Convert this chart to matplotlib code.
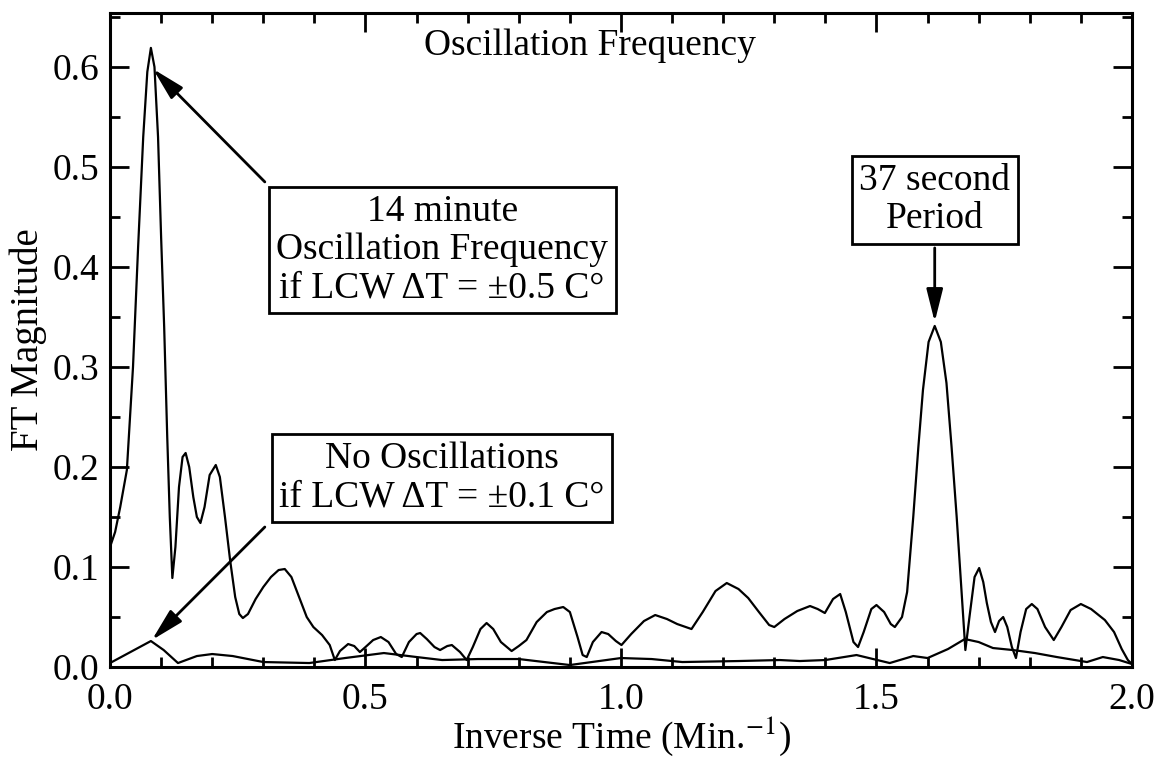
import matplotlib
matplotlib.use("Agg")
import matplotlib.pyplot as plt
from matplotlib.ticker import MultipleLocator

plt.rcParams['font.family'] = ['Liberation Serif', 'DejaVu Serif']
plt.rcParams['mathtext.fontset'] = 'stix'

# FT magnitude, LCW dT = +/-0.5 C
freq_a = [0.000, 0.010, 0.020, 0.033, 0.045, 0.055, 0.065, 0.073, 0.080, 0.087,
          0.094, 0.100, 0.106, 0.112, 0.117, 0.122, 0.128, 0.135, 0.142, 0.148,
          0.155, 0.163, 0.170, 0.177, 0.185, 0.195, 0.207, 0.215, 0.225, 0.235,
          0.245, 0.253, 0.260, 0.270, 0.285, 0.300, 0.315, 0.330, 0.342, 0.355,
          0.370, 0.385, 0.398, 0.415, 0.430, 0.440, 0.450, 0.466, 0.478, 0.489,
          0.500, 0.515, 0.530, 0.545, 0.560, 0.571, 0.585, 0.600, 0.607, 0.620,
          0.635, 0.646, 0.660, 0.669, 0.685, 0.698, 0.710, 0.725, 0.737, 0.750,
          0.765, 0.786, 0.800, 0.815, 0.835, 0.855, 0.870, 0.887, 0.900, 0.915,
          0.925, 0.933, 0.945, 0.962, 0.975, 0.990, 1.001, 1.020, 1.045, 1.067,
          1.090, 1.110, 1.138, 1.160, 1.185, 1.207, 1.230, 1.249, 1.270, 1.290,
          1.300, 1.320, 1.345, 1.370, 1.385, 1.399, 1.415, 1.429, 1.440, 1.455,
          1.464, 1.475, 1.490, 1.500, 1.515, 1.528, 1.536, 1.550, 1.560, 1.572,
          1.582, 1.591, 1.602, 1.614, 1.626, 1.637, 1.647, 1.657, 1.666, 1.674,
          1.682, 1.692, 1.701, 1.709, 1.716, 1.724, 1.732, 1.740, 1.748, 1.756,
          1.765, 1.773, 1.782, 1.793, 1.804, 1.815, 1.830, 1.847, 1.862, 1.880,
          1.900, 1.920, 1.947, 1.965, 1.980, 1.992, 2.000]
mag_a = [0.120, 0.135, 0.160, 0.197, 0.300, 0.420, 0.530, 0.595, 0.619, 0.600,
         0.530, 0.430, 0.340, 0.230, 0.150, 0.089, 0.120, 0.180, 0.210, 0.214,
         0.200, 0.170, 0.150, 0.144, 0.160, 0.192, 0.202, 0.190, 0.150, 0.107,
         0.070, 0.053, 0.049, 0.053, 0.068, 0.080, 0.090, 0.097, 0.098, 0.090,
         0.070, 0.050, 0.040, 0.032, 0.022, 0.007, 0.016, 0.023, 0.021, 0.015,
         0.020, 0.027, 0.030, 0.025, 0.013, 0.010, 0.025, 0.033, 0.034, 0.028,
         0.020, 0.017, 0.021, 0.022, 0.015, 0.007, 0.020, 0.038, 0.044, 0.038,
         0.025, 0.016, 0.021, 0.027, 0.045, 0.055, 0.058, 0.060, 0.055, 0.030,
         0.012, 0.010, 0.025, 0.035, 0.033, 0.026, 0.022, 0.033, 0.046, 0.052,
         0.048, 0.043, 0.038, 0.055, 0.076, 0.084, 0.078, 0.069, 0.055, 0.042,
         0.040, 0.048, 0.056, 0.061, 0.058, 0.054, 0.068, 0.073, 0.055, 0.025,
         0.020, 0.035, 0.058, 0.062, 0.055, 0.043, 0.040, 0.050, 0.075, 0.150,
         0.220, 0.277, 0.325, 0.341, 0.325, 0.284, 0.220, 0.150, 0.080, 0.017,
         0.050, 0.090, 0.099, 0.085, 0.064, 0.045, 0.035, 0.046, 0.050, 0.040,
         0.020, 0.009, 0.035, 0.058, 0.063, 0.058, 0.040, 0.027, 0.040, 0.057,
         0.063, 0.058, 0.047, 0.035, 0.018, 0.007, 0.003]

# FT magnitude, LCW dT = +/-0.1 C
freq_b = [0.000, 0.040, 0.080, 0.105, 0.133, 0.170, 0.200, 0.240, 0.300, 0.390,
          0.460, 0.536, 0.600, 0.650, 0.720, 0.800, 0.900, 1.000, 1.060, 1.120,
          1.230, 1.311, 1.350, 1.400, 1.461, 1.526, 1.572, 1.600, 1.640, 1.673,
          1.700, 1.728, 1.767, 1.810, 1.853, 1.912, 1.943, 1.975, 2.000]
mag_b = [0.004, 0.015, 0.026, 0.017, 0.004, 0.011, 0.013, 0.011, 0.005, 0.004,
         0.009, 0.014, 0.010, 0.007, 0.008, 0.008, 0.002, 0.009, 0.008, 0.005,
         0.006, 0.007, 0.006, 0.007, 0.012, 0.004, 0.011, 0.009, 0.018, 0.028,
         0.025, 0.019, 0.017, 0.014, 0.010, 0.005, 0.010, 0.007, 0.003]

fig = plt.figure(figsize=(11.58, 7.58), dpi=100)
ax = fig.add_axes([0.095, 0.12, 0.8825, 0.863])

ax.plot(freq_a, mag_a, color='black', lw=1.6)
ax.plot(freq_b, mag_b, color='black', lw=1.6)

ax.set_xlim(0, 2.0)
ax.set_ylim(0, 0.654)
ax.xaxis.set_major_locator(MultipleLocator(0.5))
ax.xaxis.set_minor_locator(MultipleLocator(0.1))
ax.yaxis.set_major_locator(MultipleLocator(0.1))
ax.yaxis.set_minor_locator(MultipleLocator(0.05))
ax.xaxis.set_major_formatter(plt.FormatStrFormatter('%.1f'))
ax.yaxis.set_major_formatter(plt.FormatStrFormatter('%.1f'))
ax.tick_params(which='both', direction='in', top=True, right=True,
               labelsize=27, width=2, color='black')
ax.tick_params(which='major', length=14)
ax.tick_params(which='minor', length=7)
ax.tick_params(axis='x', which='major', pad=11)
ax.tick_params(axis='y', which='major', pad=8)
for s in ax.spines.values():
    s.set_linewidth(2.2)

ax.set_xlabel('Inverse Time (Min.$^{-1}$)', fontsize=27, labelpad=-2)
ax.set_ylabel('FT Magnitude', fontsize=28, labelpad=4)

ax.text(0.94, 0.621, 'Oscillation Frequency', fontsize=27, ha='center', va='center')

box = dict(boxstyle='square,pad=0.2', fc='white', ec='black', lw=2)
arrow = dict(arrowstyle='-|>,head_length=1.0,head_width=0.25', mutation_scale=20,
             lw=2, color='black', shrinkA=0, shrinkB=0)

ax.text(0.65, 0.417, '14 minute\nOscillation Frequency\nif LCW \u0394T = \u00b10.5 C\u00b0',
        fontsize=27, ha='center', va='center', linespacing=1.15, bbox=box)
ax.annotate('', xy=(0.084, 0.598), xytext=(0.303, 0.485), arrowprops=arrow)

ax.text(0.65, 0.189, 'No Oscillations\nif LCW \u0394T = \u00b10.1 C\u00b0',
        fontsize=27, ha='center', va='center', linespacing=1.15, bbox=box)
ax.annotate('', xy=(0.082, 0.027), xytext=(0.303, 0.140), arrowprops=arrow)

ax.text(1.614, 0.467, '37 second\nPeriod', fontsize=27, ha='center', va='center',
        linespacing=1.15, bbox=box)
ax.annotate('', xy=(1.614, 0.345), xytext=(1.614, 0.419), arrowprops=arrow)

fig.savefig('out.png', dpi=100)
